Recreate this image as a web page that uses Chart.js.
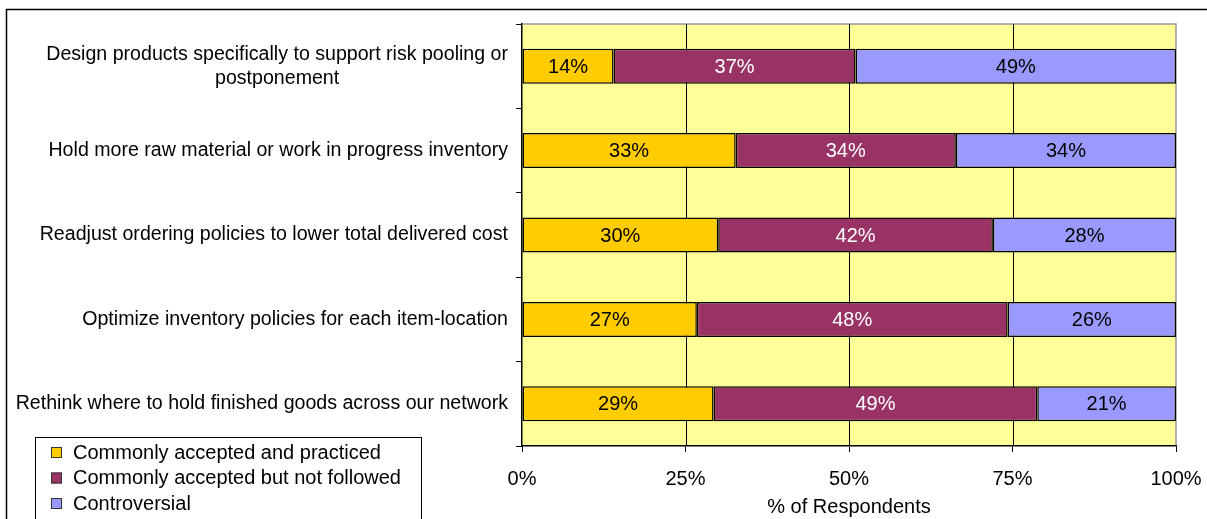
<!DOCTYPE html>
<html>
<head>
<meta charset="utf-8">
<script src="https://cdn.jsdelivr.net/npm/chart.js@4/dist/chart.umd.min.js"></script>
<style>
  html, body { margin: 0; padding: 0; background: #fff; }
  #wrap { position: relative; width: 1207px; height: 519px; }
</style>
</head>
<body>
<div id="wrap"><canvas id="practices"></canvas></div>
<script>
// Supply chain inventory practices — 100% stacked horizontal bars.
const categories = [
  ['Design products specifically to support risk pooling or', 'postponement'],
  'Hold more raw material or work in progress inventory',
  'Readjust ordering policies to lower total delivered cost',
  'Optimize inventory policies for each item-location',
  'Rethink where to hold finished goods across our network',
];
const seriesNames = ['Commonly accepted and practiced', 'Commonly accepted but not followed', 'Controversial'];
const practiced = [14, 33, 30, 27, 29];
const notFollowed = [37, 34, 42, 48, 49];
const controversial = [49, 34, 28, 26, 21];
const xTicks = [0, 25, 50, 75, 100];

const COLORS = ['#ffcc00', '#993366', '#9999ff'];
const LABEL_COLORS = ['#000', '#fff', '#000'];
const FONT = '"Liberation Sans", Arial, sans-serif';
const FS = 20;
const CAT_FS = 19.6;

// rows don't always sum to exactly 100 (rounding), so stack them as shares of the row total
const raw = [practiced, notFollowed, controversial];
const totals = categories.map((_, i) => raw.reduce((s, arr) => s + arr[i], 0));
const share = (arr) => arr.map((v, i) => (v / totals[i]) * 100);

const datasets = raw.map((arr, k) => ({
  label: seriesNames[k],
  data: share(arr),
  rawValues: arr,
  backgroundColor: COLORS[k],
  borderColor: '#000',
  borderWidth: 1.5,
  borderSkipped: false,
  barPercentage: 0.415,
  categoryPercentage: 1,
}));

const decorPlugin = {
  id: 'decor',
  beforeDraw(chart) {
    const { ctx, chartArea: a } = chart;
    ctx.save();
    // outer frame
    ctx.strokeStyle = '#000';
    ctx.lineWidth = 1.5;
    ctx.beginPath();
    ctx.moveTo(6.5, 530);
    ctx.lineTo(6.5, 9.5);
    ctx.lineTo(1220, 9.5);
    ctx.stroke();
    // plot background
    ctx.fillStyle = '#ffff99';
    ctx.fillRect(a.left, a.top, a.right - a.left, a.bottom - a.top);
    ctx.strokeStyle = '#9a9a9a';
    ctx.lineWidth = 1.5;
    ctx.beginPath();
    ctx.moveTo(a.left, a.top);
    ctx.lineTo(a.right, a.top);
    ctx.lineTo(a.right, a.bottom);
    ctx.stroke();
    ctx.restore();
  },
  beforeDatasetsDraw(chart) {
    const { ctx, chartArea: a, scales } = chart;
    ctx.save();
    ctx.strokeStyle = '#000';
    ctx.lineWidth = 1;
    for (const v of xTicks.slice(1, -1)) {
      const x = Math.round(scales.x.getPixelForValue(v)) + 0.5;
      ctx.beginPath();
      ctx.moveTo(x, a.top);
      ctx.lineTo(x, a.bottom);
      ctx.stroke();
    }
    ctx.restore();
  },
  afterDatasetsDraw(chart) {
    const { ctx } = chart;
    ctx.save();
    ctx.font = `${FS}px ${FONT}`;
    ctx.textAlign = 'center';
    ctx.textBaseline = 'middle';
    chart.data.datasets.forEach((ds, k) => {
      chart.getDatasetMeta(k).data.forEach((bar, i) => {
        const { x, y, base } = bar.getProps(['x', 'y', 'base'], true);
        ctx.fillStyle = LABEL_COLORS[k];
        ctx.fillText(ds.rawValues[i] + '%', (x + base) / 2, y + 1);
      });
    });
    ctx.restore();
  },
  afterDraw(chart) {
    const { ctx, scales } = chart;
    ctx.save();
    ctx.font = `${CAT_FS}px ${FONT}`;
    ctx.fillStyle = '#000';
    ctx.textAlign = 'center';
    ctx.textBaseline = 'middle';
    // category labels: right edge against the axis, wrapped lines centred on each other
    const right = 508;
    categories.forEach((lab, i) => {
      const lines = Array.isArray(lab) ? lab : [lab];
      const w = Math.max(...lines.map((l) => ctx.measureText(l).width));
      const cx = right - w / 2;
      const cy = scales.y.getPixelForValue(i);
      const lh = 24;
      lines.forEach((l, j) => ctx.fillText(l, cx, cy + (j - (lines.length - 1) / 2) * lh));
    });

    // legend box
    ctx.font = `${FS}px ${FONT}`;
    const bx = 35, by = 437, bw = 386;
    ctx.fillStyle = '#fff';
    ctx.fillRect(bx, by, bw, 100);
    ctx.strokeStyle = '#000';
    ctx.lineWidth = 1;
    ctx.strokeRect(bx + 0.5, by + 0.5, bw, 100);
    ctx.textAlign = 'left';
    seriesNames.forEach((name, k) => {
      const y = 452 + k * 25.5;
      ctx.fillStyle = COLORS[k];
      ctx.fillRect(51, y - 5, 11, 11);
      ctx.strokeStyle = '#333';
      ctx.strokeRect(51.5, y - 4.5, 10, 10);
      ctx.fillStyle = '#000';
      ctx.fillText(name, 73, y + 1);
    });
    ctx.restore();
  },
};

new Chart(document.getElementById('practices'), {
  type: 'bar',
  data: { labels: categories.map((c, i) => i), datasets },
  options: {
    indexAxis: 'y',
    responsive: true,
    maintainAspectRatio: false,
    animation: false,
    layout: { padding: { top: 24, right: 31, left: 0, bottom: 0 } },
    scales: {
      x: {
        stacked: true,
        min: 0,
        max: 100,
        afterBuildTicks: (s) => { s.ticks = xTicks.map((v) => ({ value: v })); },
        afterFit: (s) => { s.height = 73; s.paddingLeft = 0; s.paddingRight = 0; },
        ticks: {
          color: '#000',
          font: { family: FONT, size: FS },
          padding: 15,
          maxRotation: 0,
          callback: (v) => v + '%',
        },
        grid: { drawOnChartArea: false, color: '#000', tickLength: 6 },
        border: { color: '#000', width: 1.5 },
        title: {
          display: true,
          text: '% of Respondents',
          color: '#000',
          font: { family: FONT, size: FS },
          padding: { top: 6, bottom: 0 },
        },
      },
      y: {
        stacked: true,
        afterFit: (s) => { s.width = 522; },
        ticks: { color: 'rgba(0,0,0,0)' },
        grid: { drawOnChartArea: false, color: '#000', tickLength: 6, offset: true },
        border: { color: '#000', width: 1.5 },
      },
    },
    plugins: {
      legend: { display: false },
      tooltip: { enabled: false },
    },
  },
  plugins: [decorPlugin],
});
</script>
</body>
</html>
